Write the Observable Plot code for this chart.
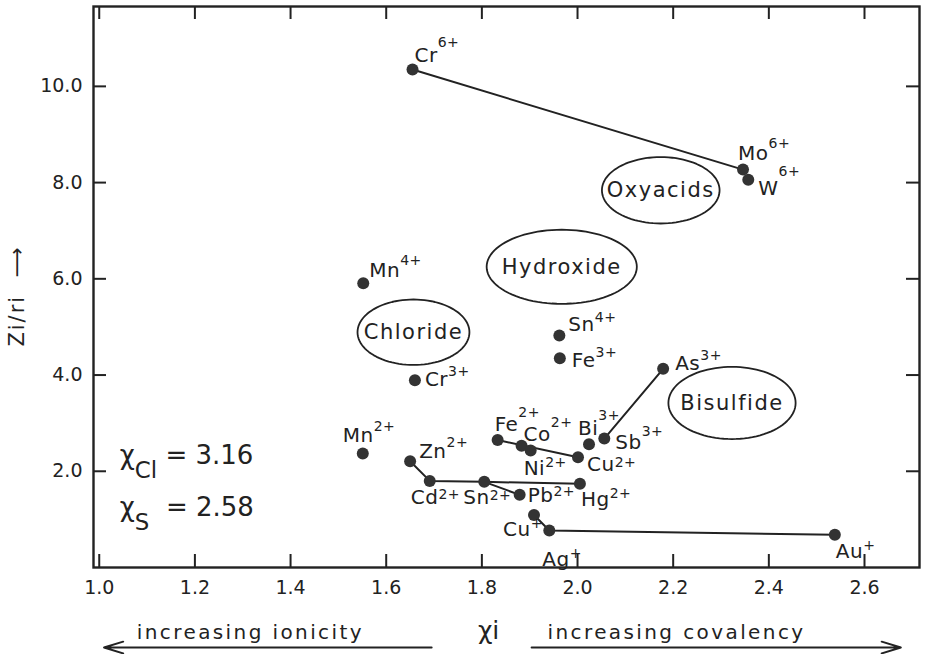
<!DOCTYPE html>
<html>
<head>
<meta charset="utf-8">
<script src="https://cdn.jsdelivr.net/npm/d3@7"></script>
<script src="https://cdn.jsdelivr.net/npm/@observablehq/plot@0.6"></script>
<style>
  body { margin: 0; background: #fff; }
  svg text { white-space: pre; }
</style>
</head>
<body>
<div id="chart"></div>
<script>
// ---- data ----
const ions = ["Cr6+","Mo6+","W6+","Mn4+","Cr3+","Sn4+","Fe3+","As3+","Mn2+","Zn2+","Cd2+","Sn2+",
              "Fe2+","Co2+","Ni2+","Cu2+","Bi3+","Sb3+","Hg2+","Pb2+","Cu+","Ag+","Au+"];
const electronegativity = [1.655,2.346,2.357,1.552,1.660,1.962,1.963,2.179,1.551,1.650,1.691,1.805,
                           1.833,1.883,1.902,2.001,2.024,2.056,2.005,1.879,1.909,1.941,2.538];
const ionicPotential = [10.35,8.27,8.06,5.91,3.89,4.82,4.35,4.13,2.37,2.21,1.80,1.78,
                        2.65,2.53,2.43,2.29,2.56,2.68,1.74,1.51,1.09,0.77,0.68];
const chains = [
  ["Cr6+","Mo6+"],
  ["As3+","Sb3+"],
  ["Fe2+","Cu2+"],
  ["Zn2+","Cd2+","Sn2+","Hg2+"],
  ["Sn2+","Pb2+"],
  ["Cu+","Ag+","Au+"]
];
const regions = ["Oxyacids","Hydroxide","Chloride","Bisulfide"];
const regionChi = [2.174,1.967,1.657,2.323];
const regionZr = [7.84,6.25,4.89,3.42];
const regionHalfWidth = [0.123,0.157,0.117,0.133];
const regionHalfHeight = [0.69,0.77,0.68,0.75];
const xTicks = [1.0,1.2,1.4,1.6,1.8,2.0,2.2,2.4,2.6];
const yTicks = [2,4,6,8,10];
const referenceLabels = ["χ_{Cl} = 3.16","χ_{S}  = 2.58"];
const referenceChi = [1.043,1.043];
const referenceZr = [2.16,1.08];
const directionLabels = ["increasing ionicity","increasing covalency"];
const directionChi = [1.316,2.207];
const axisSymbol = "χi";
const axisSymbolChi = 1.814;
const arrowFrom = [1.695,1.904];
const arrowTo = [1.010,2.676];
const yTitle = "Zi/ri  ⟶";

// ---- placement of ion labels (px: dx, baseline dy, superscript raise) ----
const labelOffset = {
  "Cr6+":[2,-8,15],"Mo6+":[-5,-10,12],"W6+":[10,15,19],"Mn4+":[6,-6,12],"Cr3+":[10,6,10],
  "Sn4+":[9,-5,9],"Fe3+":[12,9,10],"As3+":[12,1,10],"Mn2+":[-20,-11,11],"Zn2+":[9,-3,11],
  "Cd2+":[-19,23,5],"Sn2+":[-21,22,4],"Fe2+":[-3,-9,14],"Co2+":[2,-5,14],"Ni2+":[-7,24,8],
  "Cu2+":[9,14,4],"Bi3+":[-11,-9,15],"Sb3+":[11,10,13],"Hg2+":[1,22,8],"Pb2+":[8,7,6],
  "Cu+":[-31,21,8],"Ag+":[-7,36,8],"Au+":[1,23,8]
};
const textRowY = -1.476;   // below the frame, in y units
const arrowRowY = -1.663;

const ink = "#222";
const idx = id => ions.indexOf(id);
const markup = id => id.replace(/^([A-Z][a-z]?)(\d*\+)$/, "$1^{$2}");

const linkRows = chains.flatMap((c, k) => c.map(id => ({k, x: electronegativity[idx(id)], y: ionicPotential[idx(id)]})));
const ellipseRows = regions.flatMap((name, r) => d3.range(0, 96).map(j => {
  const t = j / 96 * 2 * Math.PI;
  return {name, x: regionChi[r] + regionHalfWidth[r] * Math.cos(t), y: regionZr[r] + regionHalfHeight[r] * Math.sin(t)};
}));

const W = 930, H = 654, mL = 93, mR = 11, mT = 6, mB = 87;
const pw = W - mL - mR, ph = H - mT - mB, tk = 13;

const chart = Plot.plot({
  width: W, height: H,
  marginLeft: mL, marginRight: mR, marginTop: mT, marginBottom: mB,
  x: {domain: [0.988, 2.715], label: null},
  y: {domain: [0, 11.66], label: null},
  style: {fontFamily: "'DejaVu Sans', sans-serif", fontSize: "19px", color: ink, background: "#fff"},
  marks: [
    Plot.axisX({ticks: xTicks, tickSize: 0, tickPadding: 13, tickFormat: d => d.toFixed(1), label: null}),
    Plot.axisY({ticks: yTicks, tickSize: 0, tickPadding: 11, tickFormat: d => d.toFixed(1), label: null}),
    Plot.tickX(xTicks, {x: d => d, insetTop: ph - tk, stroke: ink, strokeWidth: 2}),
    Plot.tickX(xTicks, {x: d => d, insetBottom: ph - tk, stroke: ink, strokeWidth: 2}),
    Plot.tickY(yTicks, {y: d => d, insetRight: pw - tk, stroke: ink, strokeWidth: 2}),
    Plot.tickY(yTicks, {y: d => d, insetLeft: pw - tk, stroke: ink, strokeWidth: 2}),
    Plot.frame({stroke: ink, strokeWidth: 2.4}),
    Plot.line(ellipseRows, {x: "x", y: "y", z: "name", curve: "linear-closed", stroke: ink, strokeWidth: 1.8}),
    Plot.text(regions.map((d, i) => i), {x: i => regionChi[i], y: i => regionZr[i], text: i => regions[i],
      fontSize: 21, fill: ink}),
    Plot.line(linkRows, {x: "x", y: "y", z: "k", stroke: ink, strokeWidth: 2}),
    Plot.dot(ions.map((d, i) => i), {x: i => electronegativity[i], y: i => ionicPotential[i], r: 6, fill: "#333", stroke: "none"}),
    ...ions.map((id, i) => Plot.text([i], {
      x: j => electronegativity[j], y: j => ionicPotential[j], text: j => markup(ions[j]),
      textAnchor: "start", lineAnchor: "bottom", dx: labelOffset[id][0], dy: labelOffset[id][1],
      fontSize: 20, fill: ink
    })),
    Plot.text(referenceLabels.map((d, i) => i), {x: i => referenceChi[i], y: i => referenceZr[i], text: i => referenceLabels[i],
      textAnchor: "start", lineAnchor: "bottom", fontSize: 26, fill: ink}),
    Plot.text(directionLabels.map((d, i) => i), {x: i => directionChi[i], y: () => textRowY, text: i => directionLabels[i],
      lineAnchor: "bottom", fontSize: 20, fill: ink}),
    Plot.text([axisSymbol], {x: () => axisSymbolChi, y: () => textRowY, lineAnchor: "bottom", fontSize: 25, fill: ink}),
    Plot.arrow([0, 1], {x1: i => arrowFrom[i], x2: i => arrowTo[i], y1: () => arrowRowY, y2: () => arrowRowY,
      stroke: ink, strokeWidth: 2, headLength: 15, headAngle: 34}),
    Plot.text([yTitle], {frameAnchor: "left", textAnchor: "middle", dx: -76, dy: 9, rotate: -90, fontSize: 21, fill: ink})
  ]
});

document.getElementById("chart").appendChild(chart);

// letter spacing, matching the widely spaced lettering of the original
const spacing = new Map([
  ...regions.map(r => [r, "1.5px"]),
  ...directionLabels.map(d => [d, "2.4px"]),
  ...ions.map(id => [markup(id), "0.5px"]),
  [yTitle, "2px"]
]);
const raiseFor = new Map(ions.map(id => [markup(id), labelOffset[id][2]]));

for (const t of chart.querySelectorAll("text")) {
  const s = t.textContent;
  if (spacing.has(s)) t.style.letterSpacing = spacing.get(s);
}

// turn ^{..} and _{..} markup into real super/subscript tspans
function richify(svg) {
  for (const t of svg.querySelectorAll("text")) {
    const s = t.textContent;
    if (!/[\^_]\{/.test(s)) continue;
    const fs = parseFloat(getComputedStyle(t).fontSize) || 20;
    const raise = raiseFor.has(s) ? raiseFor.get(s) : 0.72 * fs;
    while (t.firstChild) t.removeChild(t.firstChild);
    const re = /([\^_])\{([^}]*)\}|([^\^_]+)/g;
    let shift = 0, m;
    while ((m = re.exec(s))) {
      const ts = document.createElementNS("http://www.w3.org/2000/svg", "tspan");
      let target, size;
      if (m[1] === "^") { target = -raise; size = 0.7 * fs; ts.textContent = m[2]; }
      else if (m[1] === "_") { target = 0.55 * fs; size = 0.88 * fs; ts.textContent = m[2]; }
      else { target = 0; size = fs; ts.textContent = m[3]; }
      const d = target - shift;
      if (d) ts.setAttribute("dy", d.toFixed(2));
      ts.setAttribute("font-size", size.toFixed(2));
      shift = target;
      t.appendChild(ts);
    }
  }
}
richify(chart);
</script>
</body>
</html>
